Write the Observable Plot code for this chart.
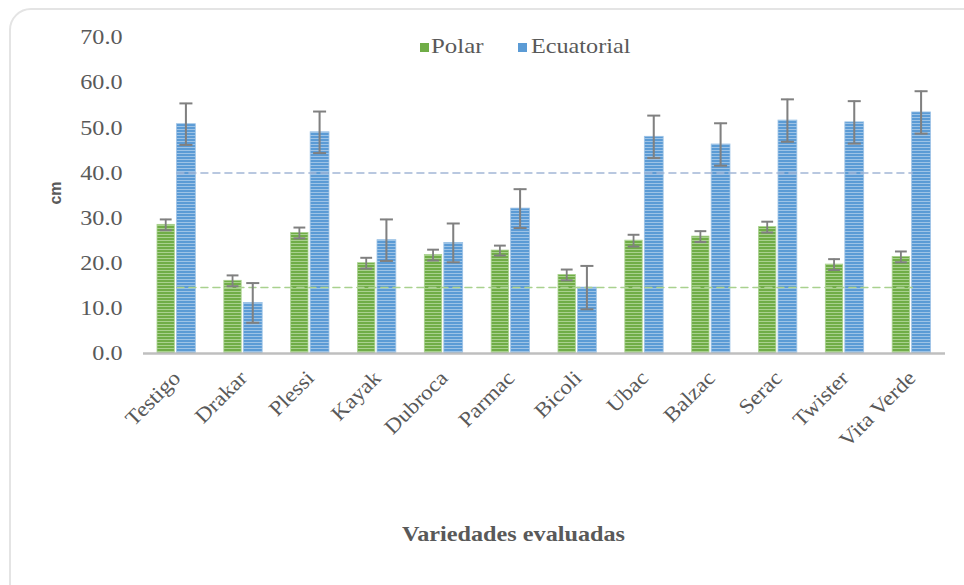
<!DOCTYPE html>
<html>
<head>
<meta charset="utf-8">
<script src="https://cdn.jsdelivr.net/npm/d3@7"></script>
<script src="https://cdn.jsdelivr.net/npm/@observablehq/plot@0.6"></script>
<style>
  html, body { margin: 0; padding: 0; background: #ffffff; }
  body { width: 964px; height: 585px; position: relative; overflow: hidden; }
  #frame { position: absolute; left: 9px; top: 8px; width: 1000px; height: 620px;
           border: 2px solid #e4e4e4; border-radius: 22px; box-sizing: border-box; }
  #chart { position: absolute; left: 0; top: 0; }
  .lbl { position: absolute; font-family: "Liberation Serif", "Times New Roman", Times, "Nimbus Roman", "DejaVu Serif", serif; color: #595959; white-space: nowrap; transform-origin: left center; }
  .sw { position: absolute; width: 9px; height: 9px; }
</style>
</head>
<body>
<div id="frame"></div>
<div id="chart"></div>
<div class="sw" style="left:420px; top:43px; background:#70ad47;"></div>
<div class="lbl" style="left:431px; top:33px; font-size:22px; transform: scaleX(1.13);">Polar</div>
<div class="sw" style="left:518px; top:43px; background:#5b9bd5;"></div>
<div class="lbl" style="left:531px; top:33px; font-size:22px; transform: scaleX(1.1);">Ecuatorial</div>
<div class="lbl" style="left:402px; top:521px; font-size:22px; font-weight:bold; transform: scaleX(1.1);">Variedades evaluadas</div>
<div class="lbl" style="left:44px; top:184px; font-size:16px; font-weight:bold; font-family:'Liberation Sans', Arial, sans-serif; transform: rotate(-90deg); transform-origin: center;">cm</div>
<script>
const varieties = ["Testigo", "Drakar", "Plessi", "Kayak", "Dubroca", "Parmac", "Bicoli", "Ubac", "Balzac", "Serac", "Twister", "Vita Verde"];
const polar    = [28.5, 16.1, 26.7, 20.0, 21.8, 22.8, 17.4, 25.0, 25.9, 28.0, 19.7, 21.4];
const polarErr = [1.2, 1.2, 1.2, 1.2, 1.2, 1.1, 1.2, 1.3, 1.2, 1.2, 1.2, 1.2];
const ecu      = [50.8, 11.2, 49.0, 25.1, 24.5, 32.1, 14.6, 48.0, 46.3, 51.6, 51.2, 53.4];
const ecuErr   = [4.6, 4.4, 4.6, 4.6, 4.3, 4.3, 4.8, 4.7, 4.7, 4.7, 4.7, 4.7];
const refPolar = 14.6;
const refEcu = 40.0;
const yTicks = [0, 10, 20, 30, 40, 50, 60, 70];

const rows = varieties.map((v, i) => ({v, polar: polar[i], pe: polarErr[i], ecu: ecu[i], ee: ecuErr[i]}));
const errColor = "#808080";

const svg = Plot.plot({
  width: 964,
  height: 585,
  marginTop: 37,
  marginBottom: 232,
  marginLeft: 143,
  marginRight: 19,
  style: {fontFamily: "\"Liberation Serif\", \"Times New Roman\", Times, \"Nimbus Roman\", \"DejaVu Serif\", serif", fontSize: "21px", color: "#595959", background: "transparent"},
  x: {domain: varieties, padding: 0, round: false, tickRotate: -45, tickSize: 0, tickPadding: 21, label: null},
  y: {domain: [0, 70], ticks: yTicks, tickFormat: d => d.toFixed(1), tickSize: 0, tickPadding: 21, label: null},
  marks: [
    Plot.barY(rows, {x: "v", y: "polar", fill: "url(#gstripe)", stroke: "#a9d18e", strokeWidth: 0.8, insetLeft: 14, insetRight: 35.5}),
    Plot.barY(rows, {x: "v", y: "ecu", fill: "url(#bstripe)", stroke: "#9dc3e6", strokeWidth: 0.8, insetLeft: 33.5, insetRight: 14.5}),
    Plot.lineY(varieties, {x: d => d, y: () => refEcu, stroke: "#a3b6d6", strokeWidth: 1.5, strokeDasharray: "7,5"}),
    Plot.lineY(varieties, {x: d => d, y: () => refPolar, stroke: "#a9d18e", strokeWidth: 1.5, strokeDasharray: "7,5"}),
    Plot.barY(rows, {x: "v", y1: d => d.polar - d.pe, y2: d => d.polar + d.pe, fill: errColor, insetLeft: 21.8, insetRight: 43.2}),
    Plot.tickY(rows, {x: "v", y: d => d.polar + d.pe, stroke: errColor, strokeWidth: 2, insetLeft: 16.8, insetRight: 38.2}),
    Plot.tickY(rows, {x: "v", y: d => d.polar - d.pe, stroke: errColor, strokeWidth: 2, insetLeft: 16.8, insetRight: 38.2}),
    Plot.barY(rows, {x: "v", y1: d => d.ecu - d.ee, y2: d => d.ecu + d.ee, fill: errColor, insetLeft: 41.9, insetRight: 22.9}),
    Plot.tickY(rows, {x: "v", y: d => d.ecu + d.ee, stroke: errColor, strokeWidth: 2, insetLeft: 36.4, insetRight: 17.4}),
    Plot.tickY(rows, {x: "v", y: d => d.ecu - d.ee, stroke: errColor, strokeWidth: 2, insetLeft: 36.4, insetRight: 17.4}),
    Plot.ruleY([0], {stroke: "#bfbfbf", strokeWidth: 2.5})
  ]
});

const ns = "http://www.w3.org/2000/svg";
const defs = document.createElementNS(ns, "defs");
defs.innerHTML = `
  <pattern id="gstripe" patternUnits="userSpaceOnUse" width="6" height="3">
    <rect width="6" height="3" fill="#70ad47"></rect>
    <rect width="6" height="1" fill="#a9d18e"></rect>
  </pattern>
  <pattern id="bstripe" patternUnits="userSpaceOnUse" width="6" height="3">
    <rect width="6" height="3" fill="#5b9bd5"></rect>
    <rect width="6" height="1" fill="#9dc3e6"></rect>
  </pattern>`;
svg.insertBefore(defs, svg.firstChild);

// Widen the tick label glyphs a little (the reference typeface is set wider);
// only touch labels that are placed through a transform, so positions are kept.
function stretch(t, s) {
  const tr = t.getAttribute("transform");
  if (!tr || !/translate/.test(tr)) return;
  t.setAttribute("transform", `${tr} scale(${s},1)`);
}
svg.querySelectorAll('[aria-label^="y-axis"] text').forEach(t => stretch(t, 1.15));
svg.querySelectorAll('[aria-label^="x-axis"] text').forEach(t => stretch(t, 1.1));

document.getElementById("chart").appendChild(svg);
</script>
</body>
</html>
